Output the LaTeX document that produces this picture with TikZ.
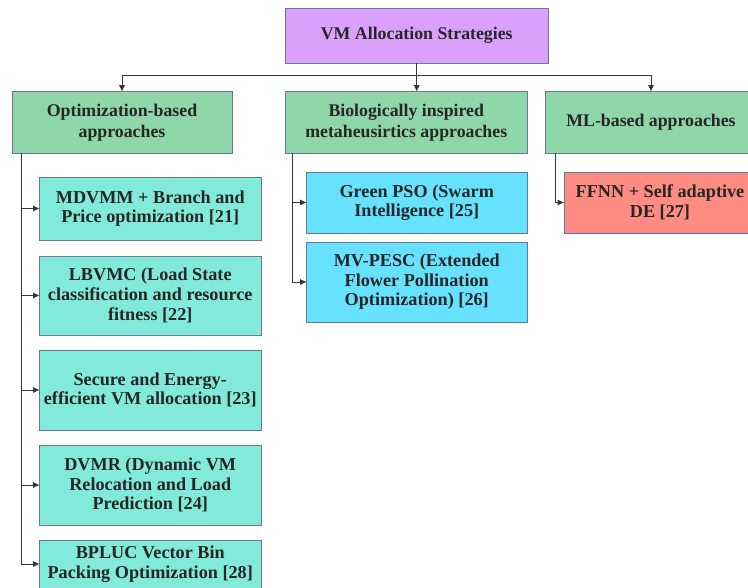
\documentclass[tikz,border=0pt]{standalone}
\usepackage{fontspec}
\setmainfont{Liberation Serif}
\usetikzlibrary{arrows.meta}

\definecolor{rootfill}{RGB}{219,161,250}
\definecolor{catfill}{RGB}{143,214,168}
\definecolor{optfill}{RGB}{130,234,218}
\definecolor{biofill}{RGB}{102,226,255}
\definecolor{mlfill}{RGB}{255,140,130}
\definecolor{edgeblue}{RGB}{108,118,150}
\definecolor{wire}{RGB}{55,55,55}

\tikzset{
  box/.style={draw=edgeblue, line width=0.8pt, inner sep=0pt, align=center,
    font=\fontsize{18.2}{19.6}\selectfont\bfseries, text=black!85},
  headbox/.style={box, font=\fontsize{17.8}{21}\selectfont\bfseries},
  wireline/.style={draw=wire, line width=0.9pt},
  conn/.style={wireline, -{Triangle[length=6pt,width=5.5pt]}}
}

\begin{document}
\begin{tikzpicture}[x=1pt, y=-1pt]
\useasboundingbox (0,0) rectangle (748,588);

% root
\node[headbox, fill=rootfill, minimum width=262.5pt, minimum height=55pt] (top) at (416.75,35.5) {VM Allocation Strategies};

% categories
\node[headbox, fill=catfill, minimum width=220pt, minimum height=61.5pt] (opt) at (122,122.25) {Optimization-based\\approaches};
\node[headbox, fill=catfill, minimum width=241.5pt, minimum height=61.5pt] (bio) at (406.25,122.25) {Biologically inspired\\metaheusirtics approaches};
\node[headbox, fill=catfill, minimum width=212pt, minimum height=61.5pt] (ml) at (651,122.25) {ML-based approaches};

% optimization-based methods
\node[box, fill=optfill, minimum width=221.5pt, minimum height=63pt] (c1) at (150.25,208.5) {MDVMM + Branch and\\Price optimization [21]};
\node[box, fill=optfill, minimum width=221.5pt, minimum height=79pt] (c2) at (150.25,295.5) {LBVMC (Load State\\classification and resource\\fitness [22]};
\node[box, fill=optfill, minimum width=221.5pt, minimum height=80pt] (c3) at (150.25,390) {Secure and Energy-\\efficient VM allocation [23]};
\node[box, fill=optfill, minimum width=221.5pt, minimum height=80pt] (c4) at (150.25,485) {DVMR (Dynamic VM\\Relocation and Load\\Prediction [24]};
\node[box, fill=optfill, minimum width=221.5pt, minimum height=48pt] (c5) at (150.25,564) {BPLUC Vector Bin\\Packing Optimization [28]};

% bio-inspired methods
\node[box, fill=biofill, minimum width=220.5pt, minimum height=61pt] (g1) at (416.75,202.5) {Green PSO (Swarm\\Intelligence [25]};
\node[box, fill=biofill, minimum width=220.5pt, minimum height=80pt] (g2) at (416.75,282) {MV-PESC (Extended\\Flower Pollination\\Optimization) [26]};

% ML method
\node[box, fill=mlfill, minimum width=192pt, minimum height=61pt] (m1) at (660,202.5) {FFNN + Self adaptive\\DE [27]};

% root to categories
\coordinate (bus) at ([yshift=-12pt]top.south);
\draw[wireline] (top.south) -- (bus);
\draw[wireline] (bus -| opt.north) -- (bus -| ml.north);
\draw[conn] (bus) -- (top.south |- bio.north);
\draw[conn] (bus -| opt.north) -- (opt.north);
\draw[conn] (bus -| ml.north) -- (ml.north);

% category trunks
\coordinate (optT) at ([xshift=10pt]opt.south west);
\coordinate (bioT) at ([xshift=7.5pt]bio.south west);
\coordinate (mlT) at ([xshift=11pt]ml.south west);

\foreach \c in {c1,c2,c3,c4,c5}
  \draw[conn] (optT) |- (\c.west);
\foreach \c in {g1,g2}
  \draw[conn] (bioT) |- (\c.west);
\draw[conn] (mlT) |- (m1.west);
\end{tikzpicture}
\end{document}
